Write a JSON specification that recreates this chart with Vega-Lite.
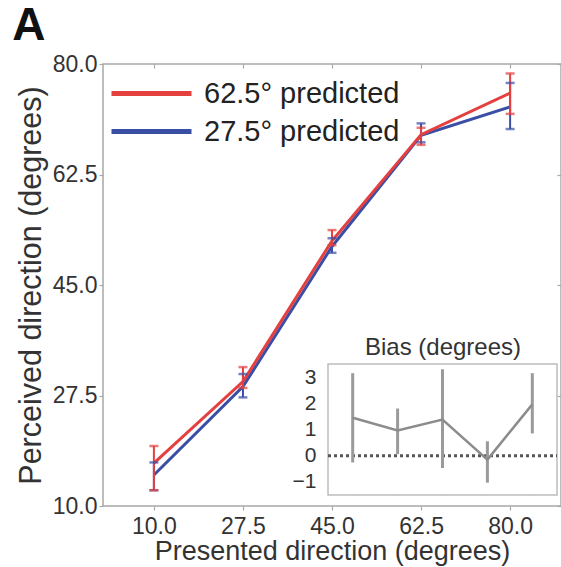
{
  "$schema": "https://vega.github.io/schema/vega-lite/v6.json",
  "width": 458,
  "height": 442,
  "autosize": {"type": "none"},
  "padding": {"left": 103, "top": 64, "right": 0, "bottom": 61},
  "background": "white",
  "config": {
    "font": "Liberation Sans",
    "view": {"stroke": "#a8a8a8", "strokeWidth": 1.5},
    "axis": {"grid": false, "domain": false, "tickColor": "#a8a8a8", "tickWidth": 1.2, "labelColor": "#333333", "titleColor": "#333333", "labelFont": "Liberation Sans", "titleFont": "Liberation Sans", "titleFontWeight": "normal"}
  },
  "title": {"text": "A", "anchor": "start", "frame": "bounds", "fontSize": 46, "fontWeight": "bold", "color": "#111111", "offset": 3, "dx": -4},
  "datasets": {
    "main": [
      {"series": "27.5° predicted", "presented": 10, "perceived": 14.9, "lo": 12.5, "hi": 16.9},
      {"series": "27.5° predicted", "presented": 27.5, "perceived": 28.9, "lo": 27.2, "hi": 30.9},
      {"series": "27.5° predicted", "presented": 45, "perceived": 51.1, "lo": 50.1, "hi": 52.4},
      {"series": "27.5° predicted", "presented": 62.5, "perceived": 68.7, "lo": 67.6, "hi": 70.6},
      {"series": "27.5° predicted", "presented": 80, "perceived": 73.2, "lo": 69.7, "hi": 77.0},
      {"series": "62.5° predicted", "presented": 10, "perceived": 16.8, "lo": 12.5, "hi": 19.5},
      {"series": "62.5° predicted", "presented": 27.5, "perceived": 29.7, "lo": 28.7, "hi": 32.0},
      {"series": "62.5° predicted", "presented": 45, "perceived": 52.0, "lo": 51.3, "hi": 53.7},
      {"series": "62.5° predicted", "presented": 62.5, "perceived": 68.8, "lo": 67.2, "hi": 69.9},
      {"series": "62.5° predicted", "presented": 80, "perceived": 75.4, "lo": 72.1, "hi": 78.5}
    ],
    "bias": [
      {"pos": 1, "bias": 1.45, "lo": -0.26, "hi": 3.15},
      {"pos": 2, "bias": 0.96, "lo": 0.06, "hi": 1.8},
      {"pos": 3, "bias": 1.38, "lo": -0.47, "hi": 3.3},
      {"pos": 4, "bias": -0.15, "lo": -1.03, "hi": 0.55},
      {"pos": 5, "bias": 1.96, "lo": 0.85, "hi": 3.15}
    ],
    "one": [{}]
  },
  "layer": [
    {
      "data": {"name": "main"},
      "resolve": {"axis": {"x": "independent", "y": "independent"}},
      "layer": [
        {
          "mark": {"type": "line", "strokeWidth": 3},
          "encoding": {
            "x": {"field": "presented", "type": "quantitative", "scale": {"domain": [0, 90], "nice": false, "zero": false},
                  "axis": {"orient": "bottom", "values": [10, 27.5, 45, 62.5, 80], "format": ".1f", "labelFontSize": 23, "tickSize": 4, "labelPadding": 5, "title": "Presented direction (degrees)", "titleFontSize": 27, "titlePadding": 0}},
            "y": {"field": "perceived", "type": "quantitative", "scale": {"domain": [10, 80], "nice": false, "zero": false},
                  "axis": {"orient": "left", "values": [10, 27.5, 45, 62.5, 80], "format": ".1f", "labelFontSize": 23, "tickSize": 4, "labelPadding": 2, "title": "Perceived direction (degrees)", "titleFontSize": 30.5, "titlePadding": 6}},
            "color": {"field": "series", "type": "nominal",
                      "scale": {"domain": ["62.5° predicted", "27.5° predicted"], "range": ["#e3403f", "#3a4ea6"]},
                      "legend": {"orient": "none", "legendX": 34, "legendY": 15, "title": null, "symbolType": "M-4,0H4", "symbolSize": 400, "symbolStrokeWidth": 5, "labelFontSize": 29, "labelColor": "#222222", "labelLimit": 0, "padding": 0, "rowPadding": 8, "labelOffset": 38}}
          }
        },
        {
          "mark": {"type": "rule", "strokeWidth": 2},
          "encoding": {
            "x": {"field": "presented", "type": "quantitative", "axis": null},
            "y": {"field": "lo", "type": "quantitative", "axis": null},
            "y2": {"field": "hi"},
            "color": {"field": "series", "type": "nominal", "legend": null}
          }
        },
        {
          "mark": {"type": "tick", "orient": "horizontal", "size": 9, "thickness": 2.5},
          "encoding": {
            "x": {"field": "presented", "type": "quantitative", "axis": null},
            "y": {"field": "lo", "type": "quantitative", "axis": null},
            "color": {"field": "series", "type": "nominal", "legend": null}
          }
        },
        {
          "mark": {"type": "tick", "orient": "horizontal", "size": 9, "thickness": 2.5},
          "encoding": {
            "x": {"field": "presented", "type": "quantitative", "axis": {"orient": "top", "values": [10, 27.5, 45, 62.5, 80], "labels": false, "tickSize": -4, "title": null}},
            "y": {"field": "hi", "type": "quantitative", "axis": {"orient": "right", "values": [10, 27.5, 45, 62.5, 80], "labels": false, "tickSize": -4, "title": null}},
            "color": {"field": "series", "type": "nominal", "legend": null}
          }
        }
      ]
    },
    {
      "data": {"name": "bias"},
      "resolve": {"axis": {"x": "independent", "y": "independent"}},
      "layer": [
        {
          "data": {"name": "one"},
          "mark": {"type": "rect", "fill": "white", "stroke": "#bdbdbd", "strokeWidth": 1.5},
          "encoding": {
            "x": {"datum": 0.45, "type": "quantitative", "scale": {"domain": [0.45, 5.55], "range": [225, 454], "nice": false, "zero": false},
                  "axis": {"orient": "bottom", "offset": -11, "values": [1, 2, 3, 4, 5], "labels": false, "tickSize": -4, "title": null}},
            "x2": {"datum": 5.55},
            "y": {"datum": -1.5, "type": "quantitative", "scale": {"domain": [-1.5, 3.5], "range": [431, 300], "nice": false, "zero": false},
                  "axis": {"orient": "left", "offset": -225, "values": [-1, 0, 1, 2, 3], "labelFontSize": 21, "tickSize": -4, "labelPadding": 16, "title": null}},
            "y2": {"datum": 3.5}
          }
        },
        {
          "data": {"name": "one"},
          "mark": {"type": "rule", "color": "#555555", "strokeWidth": 3, "strokeDash": [3, 3]},
          "encoding": {
            "x": {"datum": 0.45, "type": "quantitative", "axis": null},
            "x2": {"datum": 5.55},
            "y": {"datum": 0, "type": "quantitative", "axis": null}
          }
        },
        {
          "mark": {"type": "rule", "color": "#9a9a9a", "strokeWidth": 3},
          "encoding": {
            "x": {"field": "pos", "type": "quantitative", "axis": null},
            "y": {"field": "lo", "type": "quantitative", "axis": null},
            "y2": {"field": "hi"}
          }
        },
        {
          "mark": {"type": "line", "color": "#8c8c8c", "strokeWidth": 2.5},
          "encoding": {
            "x": {"field": "pos", "type": "quantitative",
                  "axis": {"orient": "top", "offset": -300, "values": [1, 2, 3, 4, 5], "labels": false, "tickSize": -4, "title": "Bias (degrees)", "titleFontSize": 24, "titlePadding": 4}},
            "y": {"field": "bias", "type": "quantitative", "axis": null}
          }
        }
      ]
    }
  ],
  "resolve": {"scale": {"x": "independent", "y": "independent", "color": "independent"}}
}
